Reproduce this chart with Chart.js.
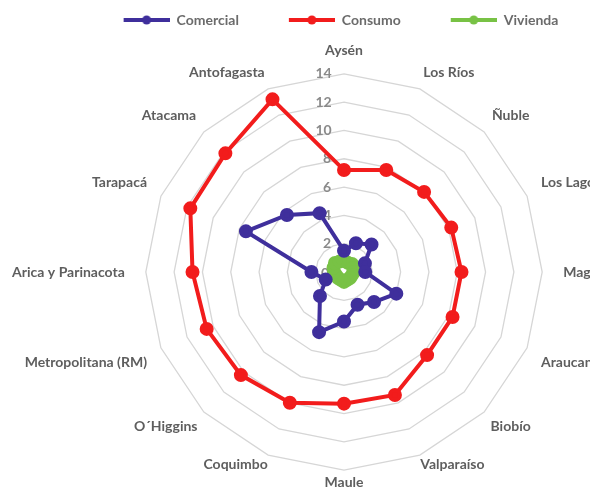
<!DOCTYPE html>
<html>
<head>
<meta charset="utf-8">
<script src="https://cdn.jsdelivr.net/npm/chart.js@4.4.1/dist/chart.umd.min.js"></script>
<style>
  html, body { margin: 0; padding: 0; background: #fff; overflow: hidden; }
  #wrap { position: absolute; left: -5px; top: 0; width: 690px; height: 498px; }
</style>
</head>
<body>
<div id="wrap"><canvas id="chart" width="690" height="498"></canvas></div>
<script>
// regiones (sentido horario desde arriba)
const regiones = ['Aysén', 'Los Ríos', 'Ñuble', 'Los Lagos', 'Magallanes', 'Araucanía', 'Biobío', 'Valparaíso',
  'Maule', 'Coquimbo', 'O´Higgins', 'Metropolitana (RM)', 'Arica y Parinacota', 'Tarapacá', 'Atacama', 'Antofagasta'];

const comercial = [1.5, 2.2, 2.75, 1.6, 1.5, 4.0, 3.0, 2.5, 3.5, 4.6, 2.4, 1.4, 2.3, 7.5, 5.7, 4.5];
const consumo = [7.2, 7.8, 8.0, 8.2, 8.3, 8.3, 8.3, 9.4, 9.3, 10.0, 10.3, 10.5, 10.7, 11.75, 11.85, 13.2];
const vivienda = [0.8, 0.7, 0.8, 0.7, 0.7, 0.6, 0.6, 0.6, 0.7, 0.6, 0.6, 0.6, 0.7, 0.8, 0.9, 0.8];

const tickMax = 14;
const tickStep = 2;

const colComercial = '#3f2f9c';
const colConsumo = '#f21c1c';
const colVivienda = '#78c245';

// distancia de cada etiqueta al anillo exterior
const labelPad = [6, 0, 2, 6, 12, 6, 0, -8, -5, -8, 0, 6, 12, 6, 2, 0];

// legend icon: line with a dot, with an empty margin on the left
function legendIcon(color) {
  const c = document.createElement('canvas');
  c.width = 98; c.height = 12;
  const ctx = c.getContext('2d');
  ctx.strokeStyle = color;
  ctx.lineWidth = 4;
  ctx.beginPath(); ctx.moveTo(52, 6); ctx.lineTo(98, 6); ctx.stroke();
  ctx.fillStyle = color;
  ctx.beginPath(); ctx.arc(75, 6, 4.5, 0, Math.PI * 2); ctx.fill();
  return c;
}

// 0 label at the centre (Chart.js skips the first tick)
const zeroLabel = {
  id: 'zeroLabel',
  beforeDatasetsDraw(chart) {
    const s = chart.scales.r;
    const p = s.getPointPositionForValue(0, 0);
    const ctx = chart.ctx;
    ctx.save();
    ctx.font = 'bold 14px Lato';
    ctx.fillStyle = '#8a8a8a';
    ctx.textAlign = 'right';
    ctx.textBaseline = 'middle';
    ctx.fillText('0', p.x - 15, p.y + 1);
    ctx.restore();
  }
};

function makeSet(label, data, color) {
  return {
    label: label,
    data: data,
    borderColor: color,
    backgroundColor: color,
    pointBackgroundColor: color,
    pointBorderColor: color,
    borderWidth: 4,
    pointRadius: 5,
    pointHoverRadius: 5,
    fill: false,
    tension: 0
  };
}

new Chart(document.getElementById('chart'), {
  type: 'radar',
  data: {
    labels: regiones,
    datasets: [
      makeSet('Comercial', comercial, colComercial),
      makeSet('Consumo', consumo, colConsumo),
      makeSet('Vivienda', vivienda, colVivienda)
    ]
  },
  options: {
    responsive: false,
    animation: false,
    layout: { padding: { top: 15, bottom: -10, left: -50, right: 0 } },
    plugins: {
      tooltip: { enabled: false },
      legend: {
        position: 'top',
        labels: {
          usePointStyle: true,
          pointStyleWidth: 98,
          padding: -2,
          color: '#6b6b6b',
          font: { family: 'Lato', size: 14, weight: 'bold' },
          generateLabels(chart) {
            return chart.data.datasets.map((ds, i) => ({
              text: ds.label,
              pointStyle: legendIcon(ds.borderColor),
              fillStyle: ds.borderColor,
              strokeStyle: ds.borderColor,
              lineWidth: 0,
              fontColor: '#6b6b6b',
              hidden: false,
              datasetIndex: i
            }));
          }
        }
      }
    },
    scales: {
      r: {
        min: 0,
        max: tickMax,
        ticks: {
          stepSize: tickStep,
          showLabelBackdrop: false,
          color: '#8a8a8a',
          font: { family: 'Lato', size: 14, weight: 'bold' },
          callback: (v) => String(v) + ' '.repeat(String(v).length === 2 ? 12 : 10)
        },
        grid: { color: '#d6d6d6', lineWidth: 1.3 },
        angleLines: { display: false },
        pointLabels: {
          color: '#5e5e5e',
          padding: (ctx) => labelPad[ctx.index],
          font: { family: 'Lato', size: 14, weight: 'bold' }
        }
      }
    }
  },
  plugins: [zeroLabel]
});
</script>
</body>
</html>
